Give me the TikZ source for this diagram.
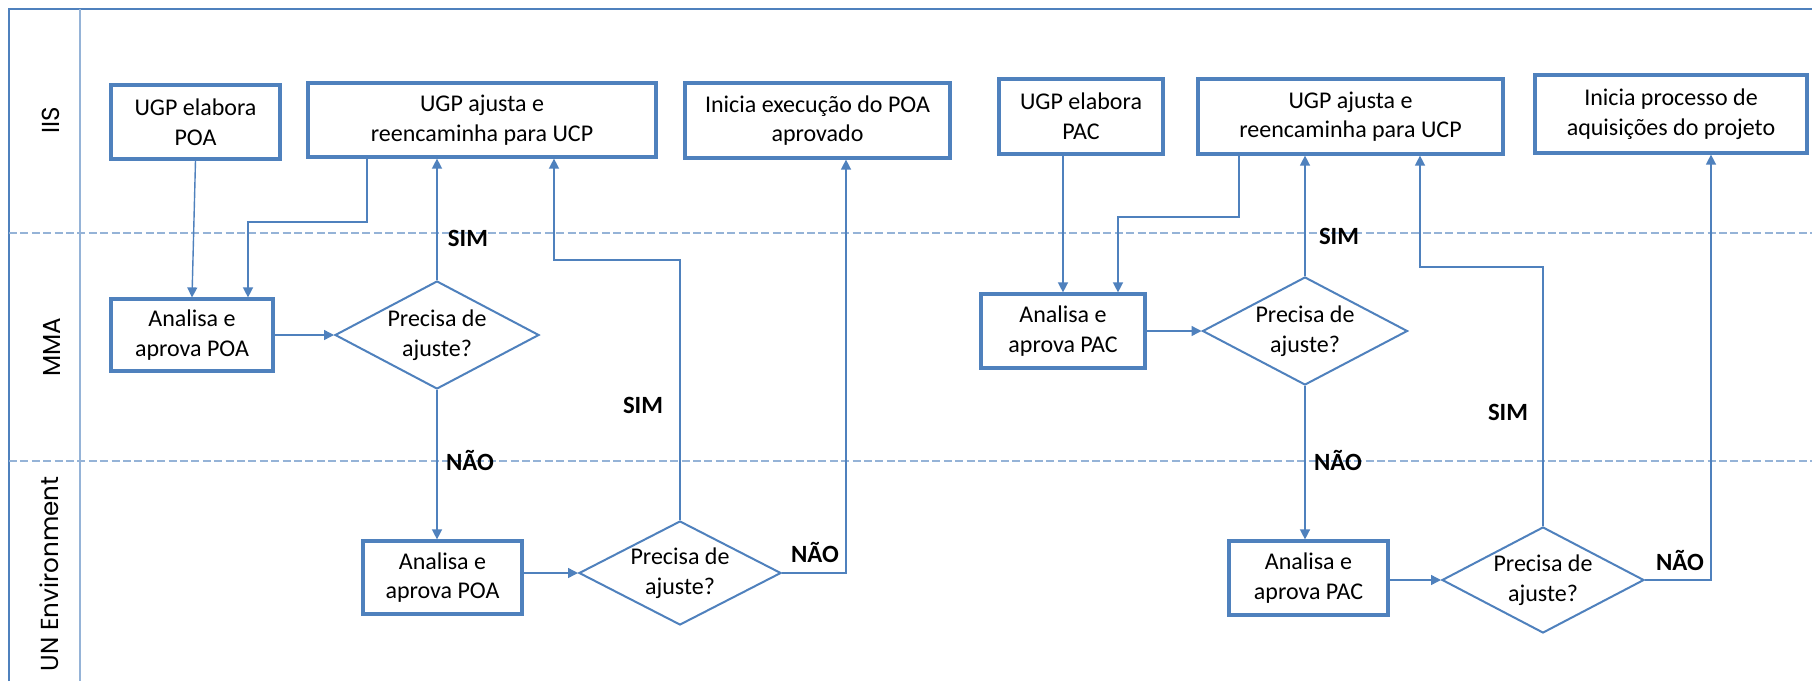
\documentclass[tikz,border=0pt]{standalone}
\usepackage{fontspec}
\setmainfont{Carlito}
\newfontfamily\lanefont{Poppins}
\usetikzlibrary{shapes.geometric,arrows.meta,calc}
\definecolor{ublue}{HTML}{4F81BD}
\definecolor{lblue}{HTML}{95B3D7}
\begin{document}
\begin{tikzpicture}[x=0.5pt,y=-0.5pt,
  box/.style={draw=ublue,line width=1.6pt,align=center,inner sep=0pt,
    font=\fontsize{12}{14.8}\selectfont},
  dec/.style={diamond,draw=ublue,line width=1pt,align=center,inner sep=0pt,
    aspect=1.9,font=\fontsize{12}{14.8}\selectfont},
  conn/.style={draw=ublue,line width=0.7pt,-{Triangle[length=5pt,width=5pt]}},
  lbl/.style={font=\bfseries\fontsize{12.4}{14}\selectfont,inner sep=0pt},
  lane/.style={rotate=90,font=\lanefont\fontsize{12.3}{14}\selectfont,inner sep=0pt},
  frameline/.style={draw=ublue,line width=1pt},
  sepline/.style={draw=lblue,line width=0.6pt},
  laneline/.style={draw=lblue,line width=0.6pt,dash pattern=on 4pt off 1.7pt}]
\useasboundingbox (0,0) rectangle (1812,681);
\fill[white] (0,0) rectangle (1812,681);
% frame and lanes
\draw[frameline] (9,681) -- (9,9) -- (1812,9);
\draw[sepline] (80,9) -- (80,681);
\draw[laneline] (9,233) -- (1812,233);
\draw[laneline] (9,461) -- (1812,461);
\node[lane] (l1) at (51,120) {IIS};
\node[lane] (l2) at (52,347) {MMA};
\node[lane] (l3) at (49,574) {UN Environment};
% left flow (POA)
\node[box,minimum width=84.5pt,minimum height=37pt] (A) at (195.5,122) {UGP elabora\\POA};
\node[box,minimum width=174pt,minimum height=37pt] (B) at (482,120) {UGP ajusta e\\reencaminha para UCP};
\node[box,minimum width=132.5pt,minimum height=37.5pt] (C) at (817.5,120.5) {Inicia execução do POA\\aprovado};
\node[box,minimum width=81pt,minimum height=36pt] (G) at (192,335) {Analisa e\\aprova POA};
\node[dec,minimum width=102pt,minimum height=54pt] (H) at (437,335) {Precisa de\\ajuste?};
\node[box,minimum width=79.5pt,minimum height=36.5pt] (I) at (442.5,577.5) {Analisa e\\aprova POA};
\node[dec,minimum width=101pt,minimum height=52pt] (J) at (680,573) {Precisa de\\ajuste?};
% right flow (PAC)
\node[box,minimum width=82pt,minimum height=37.5pt] (D) at (1081,116.5) {UGP elabora\\PAC};
\node[box,minimum width=152.5pt,minimum height=37.5pt] (E) at (1350.5,116.5) {UGP ajusta e\\reencaminha para UCP};
\node[box,minimum width=136pt,minimum height=39pt] (F) at (1671,114) {Inicia processo de\\aquisições do projeto};
\node[box,minimum width=82pt,minimum height=37pt] (K) at (1063,331) {Analisa e\\aprova PAC};
\node[dec,minimum width=102.5pt,minimum height=54pt] (L) at (1305,331) {Precisa de\\ajuste?};
\node[box,minimum width=79.5pt,minimum height=37pt] (M) at (1308.5,578) {Analisa e\\aprova PAC};
\node[dec,minimum width=101pt,minimum height=53pt] (N) at (1543,580) {Precisa de\\ajuste?};
% bend points
\coordinate (bg1) at (367,222);
\coordinate (bg2) at (248,222);
\coordinate (jb) at (554,260);
\coordinate (jc) at (846,573);
\coordinate (ek1) at (1239,217);
\coordinate (ek2) at (1118,217);
\coordinate (ne) at (1420,267);
\coordinate (nf) at (1711,580);
% left connectors
\draw[conn] (A.south) -- (G.north);
\draw[conn] (B.south -| bg1) -- (bg1) -- (bg2) -- (bg2 |- G.north);
\draw[conn] (H.north) -- (H.north |- B.south);
\draw[conn] (J.north) |- (jb) -- (jb |- B.south);
\draw[conn] (G.east) -- (H.west);
\draw[conn] (H.south) -- (H.south |- I.north);
\draw[conn] (I.east |- J.west) -- (J.west);
\draw[conn] (J.east) -- (jc) -- (jc |- C.south);
% right connectors
\draw[conn] (K.north |- D.south) -- (K.north);
\draw[conn] (E.south -| ek1) -- (ek1) -- (ek2) -- (ek2 |- K.north);
\draw[conn] (L.north) -- (L.north |- E.south);
\draw[conn] (N.north) |- (ne) -- (ne |- E.south);
\draw[conn] (K.east) -- (L.west);
\draw[conn] (L.south) -- (L.south |- M.north);
\draw[conn] (M.east |- N.west) -- (N.west);
\draw[conn] (N.east) -- (nf) -- (nf |- F.south);
% labels
\node[lbl] (s1) at (468,238) {SIM};
\node[lbl] (s2) at (643,405) {SIM};
\node[lbl] (n1) at (470,460) {NÃO};
\node[lbl] (n2) at (815,552) {NÃO};
\node[lbl] (s3) at (1339,236) {SIM};
\node[lbl] (s4) at (1508,412) {SIM};
\node[lbl] (n3) at (1338,460) {NÃO};
\node[lbl] (n4) at (1680,560) {NÃO};
\end{tikzpicture}
\end{document}
